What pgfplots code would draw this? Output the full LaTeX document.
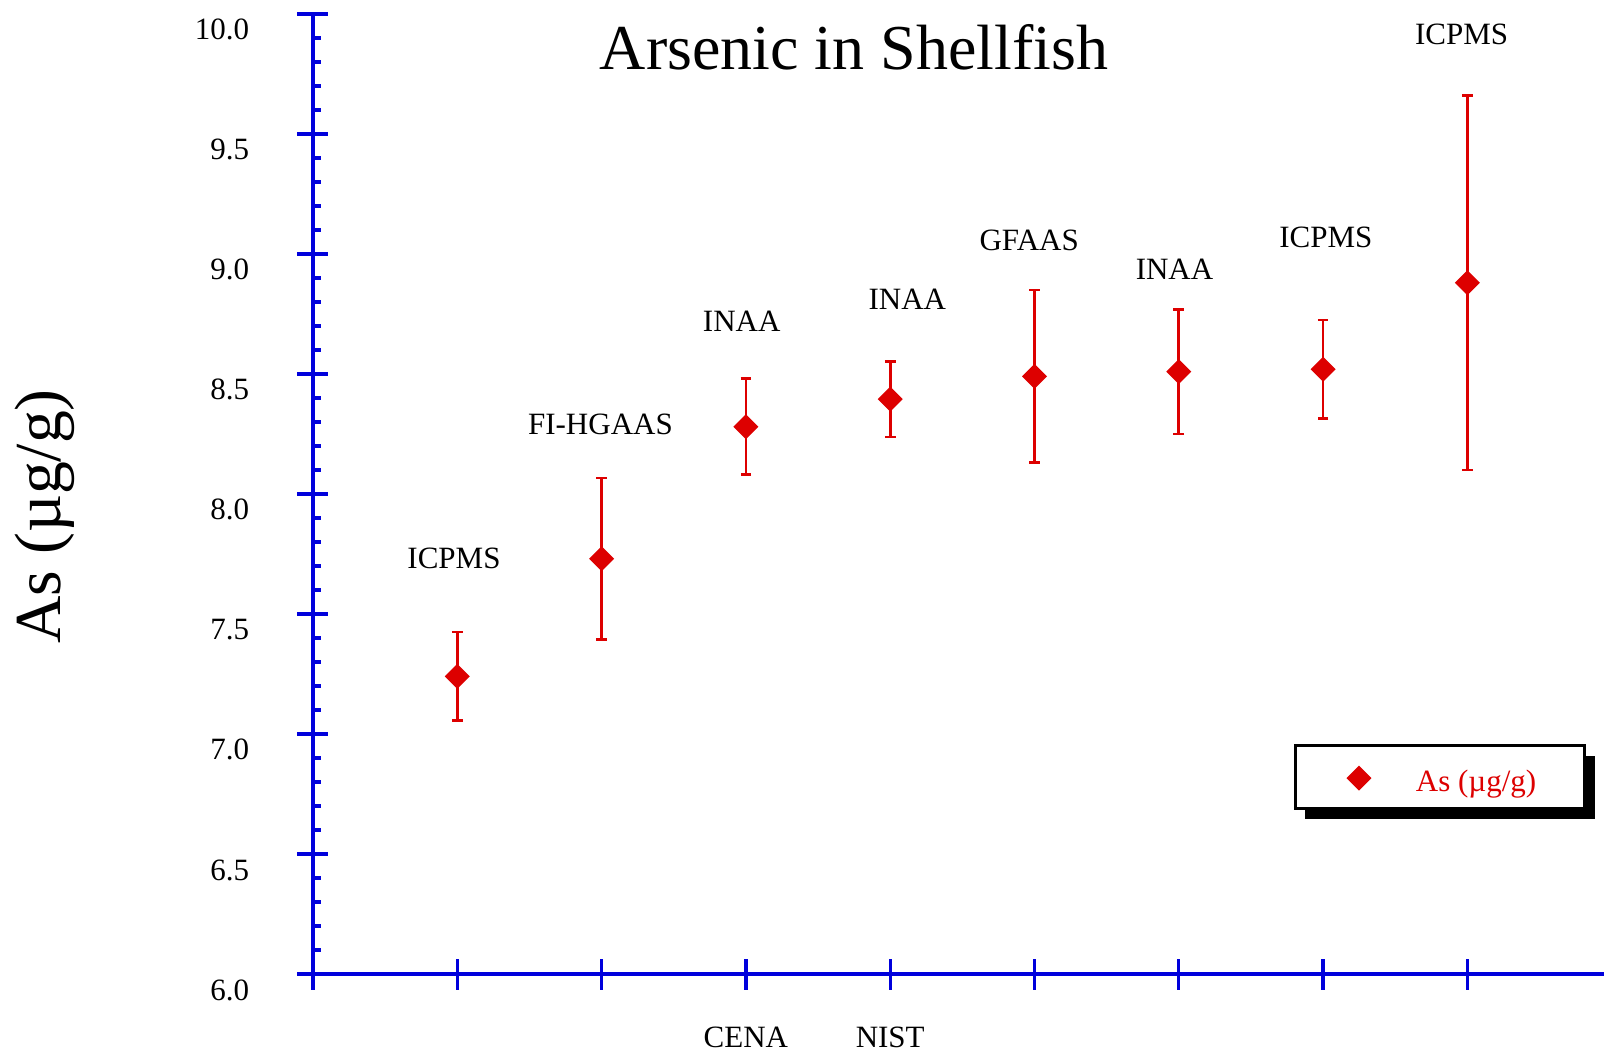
\documentclass[border=0pt]{standalone}
\usepackage{fontspec}
\setmainfont{Liberation Serif}
\usepackage{pgfplots}
\pgfplotsset{compat=1.18}
\usetikzlibrary{shadows}

\definecolor{asred}{RGB}{221,0,0}
\definecolor{axblue}{RGB}{0,0,220}
\newcommand\lblfont{\fontsize{9.3}{11}\selectfont}

% Arsenic results per laboratory: value and half-width of the error bar
\pgfplotstableread{
x  y      e
1  7.240  0.185
2  7.730  0.337
3  8.280  0.200
4  8.395  0.158
5  8.490  0.360
6  8.510  0.260
7  8.520  0.205
8  8.880  0.780
}\asdata

\begin{document}
\begin{tikzpicture}
\path[use as bounding box] (-93.9pt,-23.4pt) rectangle (387.3pt,292.2pt);
\begin{axis}[
  at={(0pt,0pt)}, anchor=south west,
  x=43.29pt, y=72pt,
  xmin=0, xmax=8.947, ymin=6, ymax=10,
  axis lines=left,
  axis line style={axblue, line width=1pt, -},
  every tick/.style={axblue, line width=1pt},
  tick align=center,
  major tick length=9.3pt,
  minor tick length=2.4pt,
  minor tick style={xshift=1.2pt},
  xtick={0,1,2,3,4,5,6,7,8},
  xticklabels={,,,CENA,NIST,,,,},
  ytick={6,6.5,7,7.5,8,8.5,9,9.5,10},
  minor y tick num=4,
  clip=false,
  /pgf/number format/assume math mode=true,
  yticklabel style={/pgf/number format/fixed, /pgf/number format/fixed zerofill,
    /pgf/number format/precision=1, font=\lblfont,
    anchor=base east, inner sep=0pt, xshift=-14.3pt, yshift=-7.8pt},
  xticklabel style={font=\lblfont, anchor=base, inner sep=0pt, yshift=-17.4pt},
  legend style={at={(0.873,0.205)}, anchor=center, draw=black, line width=1pt,
    fill=white, inner xsep=0pt, inner ysep=0pt, font=\lblfont,
    drop shadow={shadow xshift=3pt, shadow yshift=-3pt, fill=black, opacity=1},
    nodes={inner sep=0pt, anchor=base west, text=asred}},
  legend image code/.code={%
    \pgfpathrectangle{\pgfpoint{-19.05pt}{-5.25pt}}{\pgfpoint{36.15pt}{18.9pt}}%
    \pgfusepath{}%
    \draw[#1] plot coordinates {(0pt,3.9pt)};},
]
\addplot[asred, only marks, mark=square*, mark size=2.45pt,
  mark options={asred, rotate=45, line width=0.4pt},
  error bars/.cd, y dir=both, y explicit,
  error bar style={asred, line width=0.8pt},
  error mark options={asred, rotate=90, mark size=1.6pt, line width=0.8pt}]
  table[x=x, y=y, y error=e] {\asdata};
\addlegendentry{As (µg/g)\hspace*{14.55pt}}

% method used by each laboratory
\node[font=\lblfont] at (axis cs:0.977,7.731) {ICPMS};
\node[font=\lblfont] at (axis cs:1.992,8.290) {FI-HGAAS};
\node[font=\lblfont] at (axis cs:2.971,8.720) {INAA};
\node[font=\lblfont] at (axis cs:4.119,8.810) {INAA};
\node[font=\lblfont] at (axis cs:4.963,9.057) {GFAAS};
\node[font=\lblfont] at (axis cs:5.970,8.937) {INAA};
\node[font=\lblfont] at (axis cs:7.019,9.070) {ICPMS};
\node[font=\lblfont] at (axis cs:7.960,9.916) {ICPMS};

% title and axis label
\node[anchor=base, font=\fontsize{19.2}{23}\selectfont] at (axis cs:3.749,9.770) {Arsenic in Shellfish};
\node[rotate=90, anchor=base, font=\fontsize{19.7}{23}\selectfont] at (axis cs:-1.753,7.906) {As (µg/g)};
\end{axis}
\end{tikzpicture}
\end{document}
